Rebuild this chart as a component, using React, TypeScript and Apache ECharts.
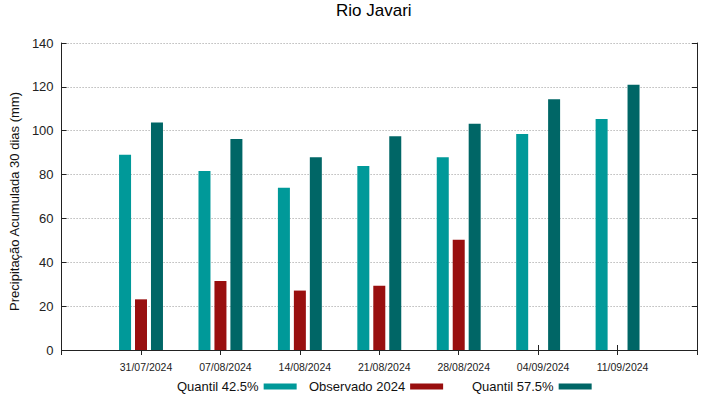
import React, { useEffect, useRef } from "react";
import * as echarts from "echarts";

const dates = ["31/07/2024", "07/08/2024", "14/08/2024", "21/08/2024", "28/08/2024", "04/09/2024", "11/09/2024"];
const quantil425 = [89.0, 81.6, 74.0, 83.9, 87.9, 98.5, 105.3];
const observado2024: (number | null)[] = [23.1, 31.5, 27.1, 29.3, 50.3, null, null];
const quantil575 = [103.8, 96.2, 87.9, 97.5, 103.2, 114.4, 121.0];
const yTicks = [0, 20, 40, 60, 80, 100, 120, 140];

const FONT = "'Liberation Sans', Arial, sans-serif";
const AXIS_COLOR = "#222";

export default function App() {
  const ref = useRef<HTMLDivElement>(null);
  useEffect(() => {
    if (!ref.current) return;
    const chart = echarts.init(ref.current, undefined, { renderer: "svg" });
    const cats = ["", ...dates, ""];
    const pad = (arr: (number | null)[]) => [null, ...arr, null];
    const yMin = yTicks[0];
    const yMax = yTicks[yTicks.length - 1];
    const yInterval = yTicks[1] - yTicks[0];
    const legendText = { fontSize: 13, color: "#111", fontFamily: FONT };
    const legendBase = {
      top: 380,
      align: "right",
      icon: "rect",
      itemWidth: 33,
      itemHeight: 6,
      padding: 0,
      textStyle: legendText,
    };
    chart.setOption({
      animation: false,
      textStyle: { fontFamily: FONT },
      title: {
        text: "Rio Javari",
        left: 336,
        top: 2,
        padding: 0,
        textStyle: { fontSize: 17, fontWeight: "normal", color: "#000", fontFamily: FONT },
      },
      grid: { left: 59, right: 22, top: 43, bottom: 49, containLabel: false },
      legend: [
        { ...legendBase, data: ["Quantil 42.5%"], left: 177 },
        { ...legendBase, data: ["Observado 2024"], left: 309 },
        { ...legendBase, data: ["Quantil 57.5%"], left: 472 },
      ],
      xAxis: [
        {
          type: "category",
          data: cats,
          boundaryGap: false,
          position: "bottom",
          axisLine: { show: true, lineStyle: { color: AXIS_COLOR, width: 1 } },
          axisTick: { show: true, inside: true, length: 5, lineStyle: { color: AXIS_COLOR } },
          axisLabel: {
            show: true,
            interval: 0,
            fontSize: 10.5,
            color: "#222",
            margin: 11,
            padding: [0, 0, 0, 10],
            fontFamily: FONT,
          },
          splitLine: { show: false },
        },
        {
          type: "category",
          data: cats,
          boundaryGap: false,
          position: "top",
          axisLine: { show: true, lineStyle: { color: AXIS_COLOR, width: 1 } },
          axisTick: { show: true, inside: true, length: 5, lineStyle: { color: AXIS_COLOR } },
          axisLabel: { show: false },
          splitLine: { show: false },
        },
      ],
      yAxis: [
        {
          type: "value",
          min: yMin,
          max: yMax,
          interval: yInterval,
          position: "left",
          name: "Precipitação Acumulada 30 dias (mm)",
          nameLocation: "middle",
          nameGap: 37,
          nameTextStyle: { fontSize: 13, color: "#111", fontFamily: FONT, padding: [0, 10, 0, 0] },
          axisLine: { show: true, lineStyle: { color: AXIS_COLOR, width: 1 } },
          axisTick: { show: true, inside: true, length: 5, lineStyle: { color: AXIS_COLOR } },
          axisLabel: { fontSize: 13, color: "#222", margin: 8, fontFamily: FONT },
          splitLine: { show: true, lineStyle: { color: "#999", type: [1, 2], width: 1 } },
        },
        {
          type: "value",
          min: yMin,
          max: yMax,
          interval: yInterval,
          position: "right",
          axisLine: { show: true, lineStyle: { color: AXIS_COLOR, width: 1 } },
          axisTick: { show: true, inside: true, length: 5, lineStyle: { color: AXIS_COLOR } },
          axisLabel: { show: false },
          splitLine: { show: false },
        },
      ],
      series: [
        {
          name: "Quantil 42.5%",
          type: "bar",
          xAxisIndex: 0,
          yAxisIndex: 0,
          data: pad(quantil425),
          barWidth: 12,
          barGap: "33%",
          itemStyle: { color: "#009999" },
        },
        {
          name: "Observado 2024",
          type: "bar",
          xAxisIndex: 0,
          yAxisIndex: 0,
          data: pad(observado2024),
          barWidth: 12,
          barGap: "33%",
          itemStyle: { color: "#990f0f" },
        },
        {
          name: "Quantil 57.5%",
          type: "bar",
          xAxisIndex: 0,
          yAxisIndex: 0,
          data: pad(quantil575),
          barWidth: 12,
          barGap: "33%",
          itemStyle: { color: "#006666" },
        },
      ],
    });
    return () => chart.dispose();
  }, []);
  return (
    <div
      ref={ref}
      style={{ position: "fixed", left: 0, top: 0, width: 719, height: 399, background: "#fff" }}
    />
  );
}
